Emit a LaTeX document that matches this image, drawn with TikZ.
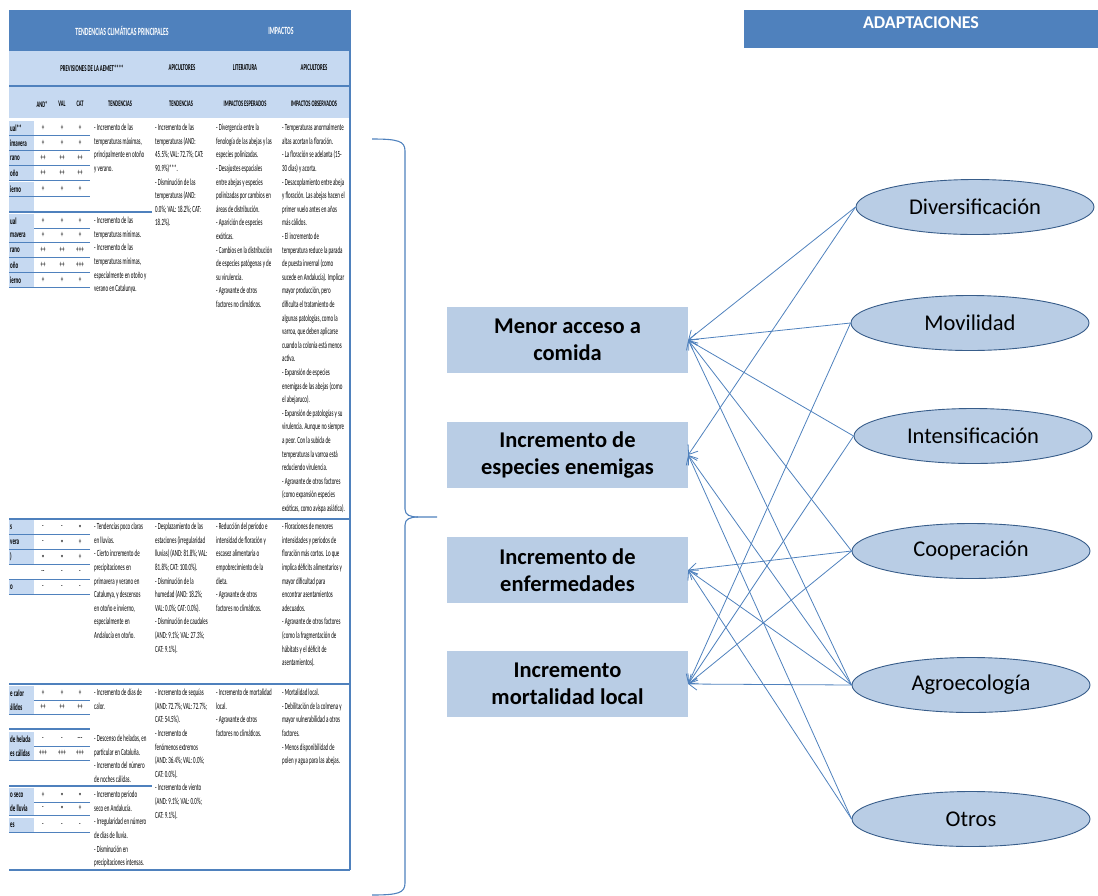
\documentclass[tikz,border=0pt]{standalone}
\usepackage{fontspec}
\setmainfont{Carlito}
\newfontfamily\narrowf[FakeStretch=0.53]{Carlito}
\usepackage{tikz}
\usetikzlibrary{arrows.meta,shapes.geometric}
\definecolor{bluex}{HTML}{4F81BD}
\definecolor{lightx}{HTML}{C6D9F1}
\definecolor{boxbg}{HTML}{B9CDE5}
\definecolor{edgex}{HTML}{385D8A}
\newcommand\tabfont{\narrowf\fontsize{9.4}{13.6}\selectfont}
\newcommand\hdfont[1]{\narrowf\bfseries\fontsize{#1}{#1}\selectfont}
\tikzset{
  ar/.style={-{Straight Barb[length=8pt,width=12pt]},line width=0.8pt,bluex},
  imp/.style={fill=boxbg,minimum width=241pt,minimum height=66pt,align=center,inner sep=2pt,font=\bfseries\fontsize{22.5}{27.5}\selectfont},
  adp/.style={ellipse,draw=edgex,line width=0.9pt,fill=boxbg,minimum width=238pt,minimum height=55pt,inner sep=0pt,font=\fontsize{22.5}{27}\selectfont},
  tx/.style={anchor=north west,align=left,inner sep=0pt,font=\tabfont},
  val/.style={inner sep=0pt,font=\tabfont},
  lab/.style={anchor=west,inner sep=0pt,font=\tabfont\bfseries},
  hd/.style={inner sep=0pt},
  ln/.style={bluex,line width=1.3pt},
  llave/.style={bluex,line width=1.1pt}
}

\begin{document}
\begin{tikzpicture}[x=1pt,y=-1pt]
\useasboundingbox (0,0) rectangle (1098,895);
\fill[bluex] (9,10) rectangle (350,51);
\fill[lightx] (9,51) rectangle (350,118);
\draw[ln] (9,86) -- (350,86);
\node[hd,white,font=\hdfont{11}] (h1a) at (122,31) {TENDENCIAS CLIMÁTICAS PRINCIPALES};
\node[hd,white,font=\hdfont{11}] (h1b) at (281,31) {IMPACTOS};
\node[hd,font=\hdfont{9}] (h2a) at (92,68) {PREVISIONES DE LA AEMET****};
\node[hd,font=\hdfont{9}] (h2b) at (182,68) {APICULTORES};
\node[hd,font=\hdfont{9}] (h2c) at (245,68) {LITERATURA};
\node[hd,font=\hdfont{9}] (h2d) at (314,68) {APICULTORES};
\node[hd,font=\hdfont{8.5}] (h3a) at (42,104) {AND*};
\node[hd,font=\hdfont{8.5}] (h3b) at (62,104) {VAL};
\node[hd,font=\hdfont{8.5}] (h3c) at (80,104) {CAT};
\node[hd,font=\hdfont{8.5}] (h3d) at (120,104) {TENDENCIAS};
\node[hd,font=\hdfont{8.5}] (h3e) at (181,104) {TENDENCIAS};
\node[hd,font=\hdfont{8.5}] (h3f) at (245,104) {IMPACTOS ESPERADOS};
\node[hd,font=\hdfont{8.5}] (h3g) at (314,104) {IMPACTOS OBSERVADOS};

\foreach \ry/\lb/\va/\vb/\vc [count=\i] in {128/ual**/+/+/+, 143/imavera/+/+/+, 158/rano/++/++/++, 173/oño/++/++/++, 189/ierno/+/+/+,
  221/ual/+/+/+, 235/mavera/+/+/+, 250/rano/++/++/+++, 265/oño/++/++/+++, 280/ierno/+/+/+,
  527/s/-/-/=, 542/vera/-/=/+, 557/)/=/=/+, 587/o/-/-/-,
  693/e calor/+/+/+, 707/álidos/++/++/++, 739/de helada/-/-/---, 753/es cálidas/+++/+++/+++,
  795/o seco/+/=/=, 808/de lluvia/-/=/+, 825/es/-/-/-}{
  \fill[lightx] (9,\ry-7) rectangle (34,\ry+7);
  \draw[ln] (9,\ry+7.5) -- (90,\ry+7.5);
  \node[lab] (lb\i) at (10,\ry) {\lb};
  \node[val] (va\i) at (43,\ry) {\va};
  \node[val] (vb\i) at (62,\ry) {\vb};
  \node[val] (vc\i) at (80,\ry) {\vc};
}
\fill[lightx] (9,197) rectangle (34,211);
\draw[ln] (9,212) -- (152,212);
\node[val] (va0) at (43,572) {--};
\node[val] (vb0) at (62,572) {-};
\node[val] (vc0) at (80,572) {-};
\draw[ln] (9,579.5) -- (90,579.5);
\draw[ln] (9,729) -- (90,729);
\draw[ln] (9,786) -- (152,786);
\draw[ln] (9,519) -- (350,519);
\draw[ln] (9,684) -- (350,684);
\draw[ln] (9,870) -- (350,870);
\draw[ln] (350,10) -- (350,870);

\node[tx] (tendA) at (94,124) {- Incremento de las\\temperaturas máximas,\\principalmente en otoño\\y verano.};
\node[tx] (tendB) at (94,217) {- Incremento de las\\temperaturas mínimas.\\- Incremento de las\\temperaturas mínimas,\\especialmente en otoño y\\verano en Catalunya.};
\node[tx] (apiA) at (155,124) {- Incremento de las\\temperaturas (AND:\\45.5\%; VAL: 72.7\%; CAT:\\90.9\%)***.\\- Disminución de las\\temperaturas (AND:\\0.0\%; VAL: 18.2\%; CAT:\\18.2\%).};
\node[tx] (litA) at (216,124) {- Divergencia entre la\\fenología de las abejas y las\\especies polinizadas.\\- Desajustes espaciales\\entre abejas y especies\\polinizadas por cambios en\\áreas de distribución.\\- Aparición de especies\\exóticas.\\- Cambios en la distribución\\de especies patógenas y de\\su virulencia.\\- Agravante de otros\\factores no climáticos.};
\node[tx] (obsA) at (282,124) {- Temperaturas anormalmente\\altas acortan la floración.\\- La floración se adelanta (15-\\30 días) y acorta.\\- Desacoplamiento entre abeja\\y floración. Las abejas hacen el\\primer vuelo antes en años\\más cálidos.\\- El incremento de\\temperatura reduce la parada\\de puesta invernal (como\\sucede en Andalucía). Implicar\\mayor producción, pero\\dificulta el tratamiento de\\algunas patologías, como la\\varroa, que deben aplicarse\\cuando la colonia está menos\\activa.\\- Expansión de especies\\enemigas de las abejas (como\\el abejaruco).\\- Expansión de patologías y su\\virulencia. Aunque no siempre\\a peor. Con la subida de\\temperaturas la varroa está\\reduciendo virulencia.\\- Agravante de otros factores\\(como expansión especies\\exóticas, como avispa asiática).};

\node[tx] (tendP) at (94,523) {- Tendencias poco claras\\en lluvias.\\- Cierto incremento de\\precipitaciones en\\primavera y verano en\\Catalunya, y descensos\\en otoño e invierno,\\especialmente en\\Andalucía en otoño.};
\node[tx] (apiP) at (155,523) {- Desplazamiento de las\\estaciones (irregularidad\\lluvias) (AND: 81.8\%; VAL:\\81.8\%; CAT: 100.0\%).\\- Disminución de la\\humedad (AND: 18.2\%;\\VAL: 0.0\%; CAT: 0.0\%).\\- Disminución de caudales\\(AND: 9.1\%; VAL: 27.3\%;\\CAT: 9.1\%).};
\node[tx] (litP) at (216,523) {- Reducción del período e\\intensidad de floración y\\escasez alimentaria o\\empobrecimiento de la\\dieta.\\- Agravante de otros\\factores no climáticos.};
\node[tx] (obsP) at (282,523) {- Floraciones de menores\\intensidades y períodos de\\floración más cortos. Lo que\\implica déficits alimentarios y\\mayor dificultad para\\encontrar asentamientos\\adecuados.\\- Agravante de otros factores\\(como la fragmentación de\\hábitats y el déficit de\\asentamientos).};

\node[tx] (tendX) at (94,689) {- Incremento de días de\\calor.};
\node[tx] (tendY) at (94,735) {- Descenso de heladas, en\\particular en Cataluña.\\- Incremento del número\\de noches cálidas.};
\node[tx] (tendZ) at (94,791) {- Incremento período\\seco en Andalucía.\\- Irregularidad en número\\de días de lluvia.\\- Disminución en\\precipitaciones intensas.};
\node[tx] (apiX) at (155,689) {- Incremento de sequías\\(AND: 72.7\%; VAL: 72.7\%;\\CAT: 54.5\%).\\- Incremento de\\fenómenos extremos\\(AND: 36.4\%; VAL: 0.0\%;\\CAT: 0.0\%).\\- Incremento de viento\\(AND: 9.1\%; VAL: 0.0\%;\\CAT: 9.1\%).};
\node[tx] (litX) at (216,689) {- Incremento de mortalidad\\local.\\- Agravante de otros\\factores no climáticos.};
\node[tx] (obsX) at (282,689) {- Mortalidad local.\\- Debilitación de la colmena y\\mayor vulnerabilidad a otros\\factores.\\- Menos disponibilidad de\\polen y agua para las abejas.};

\draw[llave] (372,139) .. controls (398,139) and (405,141) .. (405,151) -- (405,509)
  .. controls (405,515) and (410,517) .. (418,517) -- (437,517);
\draw[llave] (418,517) .. controls (410,517) and (405,519) .. (405,525) -- (405,883)
  .. controls (405,893) and (398,895) .. (372,895);

\node[fill=bluex,minimum width=354pt,minimum height=38pt,inner sep=0pt] (adapt) at (921,29) {};
\node[text=white,inner sep=0pt,font=\bfseries\fontsize{18}{20}\selectfont] (adaptt) at (921,23) {ADAPTACIONES};

\node[imp] (menor) at (567.5,340) {Menor acceso a\\comida};
\node[imp] (enem) at (567.5,455) {Incremento de\\especies enemigas};
\node[imp] (enf) at (567.5,570) {Incremento de\\enfermedades};
\node[imp] (mort) at (567.5,684) {Incremento\\mortalidad local};

\node[adp] (div) at (975,207) {Diversificación};
\node[adp] (mov) at (970,323) {Movilidad};
\node[adp] (int) at (973,436) {Intensificación};
\node[adp] (coop) at (971,551) {Cooperación};
\node[adp] (agro) at (971,685) {Agroecología};
\node[adp] (otros) at (971,819) {Otros};

\foreach \a/\b in {div/menor, div/enem, mov/menor, mov/mort, int/menor, int/mort,
  coop/menor, coop/enf, coop/mort, agro/menor, agro/enem, agro/enf, agro/mort,
  otros/enem, otros/enf}
  \draw[ar] (\a.west) -- (\b.east);
\end{tikzpicture}
\end{document}
